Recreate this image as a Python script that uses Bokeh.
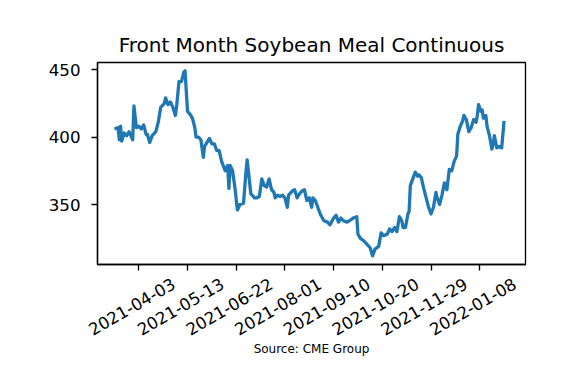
import math
import pandas as pd
from datetime import datetime, timedelta
from bokeh.plotting import figure
from bokeh.models import Range1d, FixedTicker, DatetimeAxis, DatetimeTickFormatter
from bokeh.embed import file_html
from bokeh.resources import INLINE

# ---- data ----
dates = [
    "2021-03-14", "2021-03-17", "2021-03-18", "2021-03-19", "2021-03-20", "2021-03-22",
    "2021-03-24", "2021-03-26", "2021-03-29", "2021-03-30", "2021-04-01", "2021-04-03",
    "2021-04-05", "2021-04-07", "2021-04-09", "2021-04-10", "2021-04-12", "2021-04-14",
    "2021-04-17", "2021-04-19", "2021-04-21", "2021-04-24", "2021-04-25", "2021-04-27",
    "2021-04-29", "2021-05-01", "2021-05-03", "2021-05-04", "2021-05-06", "2021-05-08",
    "2021-05-10", "2021-05-11", "2021-05-13", "2021-05-15", "2021-05-17", "2021-05-19",
    "2021-05-20", "2021-05-22", "2021-05-24", "2021-05-26", "2021-05-27", "2021-05-29",
    "2021-05-31", "2021-06-02", "2021-06-04", "2021-06-06", "2021-06-08", "2021-06-10",
    "2021-06-13", "2021-06-15", "2021-06-16", "2021-06-17", "2021-06-19", "2021-06-21",
    "2021-06-23", "2021-06-25", "2021-06-28", "2021-06-30", "2021-07-01", "2021-07-02",
    "2021-07-04", "2021-07-06", "2021-07-07", "2021-07-09", "2021-07-11", "2021-07-13",
    "2021-07-15", "2021-07-17", "2021-07-19", "2021-07-21", "2021-07-23", "2021-07-24",
    "2021-07-26", "2021-07-28", "2021-07-30", "2021-08-01", "2021-08-03", "2021-08-04",
    "2021-08-07", "2021-08-09", "2021-08-11", "2021-08-13", "2021-08-15", "2021-08-17",
    "2021-08-19", "2021-08-21", "2021-08-23", "2021-08-24", "2021-08-26", "2021-08-28",
    "2021-08-30", "2021-09-02", "2021-09-05", "2021-09-07", "2021-09-10", "2021-09-12",
    "2021-09-14", "2021-09-16", "2021-09-18", "2021-09-21", "2021-09-23", "2021-09-26",
    "2021-09-29", "2021-09-30", "2021-10-02", "2021-10-05", "2021-10-08", "2021-10-10",
    "2021-10-12", "2021-10-14", "2021-10-17", "2021-10-19", "2021-10-21", "2021-10-24",
    "2021-10-26", "2021-10-28", "2021-10-30", "2021-11-01", "2021-11-03", "2021-11-05",
    "2021-11-06", "2021-11-08", "2021-11-10", "2021-11-11", "2021-11-12", "2021-11-14",
    "2021-11-16", "2021-11-18", "2021-11-19", "2021-11-21", "2021-11-23", "2021-11-25",
    "2021-11-27", "2021-11-29", "2021-12-01", "2021-12-03", "2021-12-04", "2021-12-06",
    "2021-12-08", "2021-12-10", "2021-12-12", "2021-12-14", "2021-12-16", "2021-12-18",
    "2021-12-20", "2021-12-21", "2021-12-23", "2021-12-25", "2021-12-26", "2021-12-28",
    "2021-12-30", "2022-01-01", "2022-01-03", "2022-01-05", "2022-01-06", "2022-01-07",
    "2022-01-09", "2022-01-10", "2022-01-11", "2022-01-13", "2022-01-14", "2022-01-16",
    "2022-01-18", "2022-01-19", "2022-01-20", "2022-01-22", "2022-01-24", "2022-01-26",
    "2022-01-28",
]
prices = [
    406, 407, 398, 408, 397, 403,
    401, 404, 398, 423, 407, 408,
    406, 409, 402, 402, 396, 401,
    404, 411, 422, 425, 429, 424,
    426, 422, 416, 422, 441, 441,
    448, 449, 419, 417, 414, 407,
    400, 400, 398, 385, 393, 396,
    399, 395, 395, 390, 390, 382,
    375, 379, 362, 379, 375, 362,
    346, 350, 351, 374, 383, 375,
    358, 356, 355, 355, 356, 369,
    364, 363, 369, 361, 359, 355,
    357, 356, 357, 355, 348, 357,
    360, 361, 355, 358, 360, 361,
    353, 355, 348, 355, 353, 348,
    343, 338, 337, 335, 340, 342,
    337, 340, 338, 337, 338, 340,
    341, 328, 325, 323, 320, 318,
    312, 317, 319, 329, 327, 328,
    332, 330, 333, 330, 341, 338,
    333, 333, 343, 345, 364, 369,
    374, 371, 372, 370, 362, 355,
    348, 343, 348, 359, 355, 350,
    357, 366, 361, 376, 375, 382,
    386, 402, 408, 412, 416, 413,
    404, 407, 413, 411, 416, 424,
    419, 420, 414, 416, 408, 401,
    391, 395, 401, 392, 393, 392,
    412,
]
tick_dates = ["2021-04-03", "2021-05-13", "2021-06-22", "2021-08-01",
              "2021-09-10", "2021-10-20", "2021-11-29", "2022-01-08"]
y_ticks = [350, 400, 450]
title_text = "Front Month Soybean Meal Continuous"
source_text = "Source: CME Group"

x = pd.to_datetime(dates)
tick_ms = [float(t.value // 10**6) for t in pd.to_datetime(tick_dates)]

FONT = "DejaVu Sans"
frame_w, frame_h = 428, 202
x_start, x_end = datetime(2021, 2, 28, 2), datetime(2022, 2, 14, 14)
y0, y1 = 305.6, 455.2

p = figure(
    x_axis_type="datetime",
    frame_width=frame_w, frame_height=frame_h,
    min_border_left=97, min_border_right=33, min_border_top=62, min_border_bottom=100,
    x_range=Range1d(x_start, x_end),
    y_range=Range1d(y0, y1),
    output_backend="svg", toolbar_location=None,
    title=title_text,
)
p.title.text_font = FONT
p.title.text_font_size = "20px"
p.title.text_font_style = "normal"
p.title.text_color = "black"
p.title.align = "center"
p.title.standoff = 12

p.line(x, prices, line_color="#1f77b4", line_width=3.3, line_join="round")

p.grid.visible = False
p.outline_line_color = "black"
p.outline_line_width = 1.33
p.outline_line_alpha = 1.0
p.background_fill_color = "white"
p.border_fill_color = "white"

for ax in (p.xaxis[0], p.yaxis[0]):
    ax.axis_line_color = "black"
    ax.axis_line_width = 1.33
    ax.major_tick_line_color = "black"
    ax.major_tick_line_width = 1.33
    ax.major_tick_in = 0
    ax.major_tick_out = 6
    ax.minor_tick_line_color = None

p.yaxis.ticker = FixedTicker(ticks=y_ticks)
p.yaxis.major_label_text_font = FONT
p.yaxis.major_label_text_font_size = "16.67px"
p.yaxis.major_label_text_color = "black"
p.yaxis.major_label_standoff = 11

# main x axis: tick marks only
p.xaxis.ticker = FixedTicker(ticks=tick_ms)
p.xaxis.major_label_text_font_size = "0px"
p.xaxis.major_label_text_color = None
p.xaxis.major_label_standoff = 0

# label axis: same dates, range shifted so Bokeh's end-anchored rotated
# labels sit centred under their ticks (matplotlib style)
shift = (x_end - x_start) * (35 / frame_w)
p.extra_x_ranges = {"lab": Range1d(x_start - shift, x_end - shift)}
fmt = "%Y-%m-%d"
lab_axis = DatetimeAxis(
    x_range_name="lab",
    ticker=FixedTicker(ticks=tick_ms),
    formatter=DatetimeTickFormatter(
        milliseconds=fmt, seconds=fmt, minsec=fmt, minutes=fmt, hourmin=fmt,
        hours=fmt, days=fmt, months=fmt, years=fmt,
    ),
    axis_line_color=None,
    major_tick_line_color=None,
    minor_tick_line_color=None,
    major_tick_in=0, major_tick_out=0,
    major_label_orientation=math.pi / 6,
    major_label_text_font=FONT,
    major_label_text_font_size="16.67px",
    major_label_text_color="black",
    major_label_standoff=12,
    axis_label=source_text,
    axis_label_text_font=FONT,
    axis_label_text_font_size="12px",
    axis_label_text_font_style="normal",
    axis_label_text_color="black",
    axis_label_standoff=-2,
)
p.add_layout(lab_axis, "below")

open("out.html", "w").write(file_html(p, INLINE))
